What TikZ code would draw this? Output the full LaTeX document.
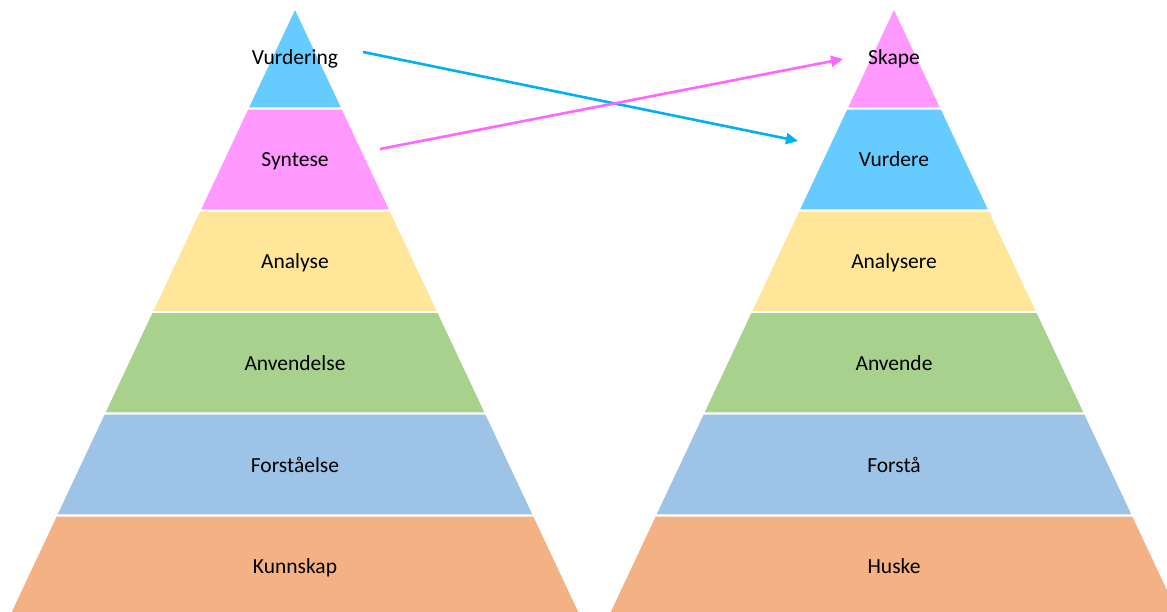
\documentclass[tikz,border=0pt]{standalone}
\usepackage{fontspec}
\setmainfont{Carlito}
\usetikzlibrary{arrows.meta}

\definecolor{skyblue}{HTML}{66CCFF}
\definecolor{pinklayer}{HTML}{FF99FF}
\definecolor{yellowlayer}{HTML}{FFE699}
\definecolor{greenlayer}{HTML}{A9D18E}
\definecolor{bluelayer}{HTML}{9DC3E6}
\definecolor{orangelayer}{HTML}{F4B183}
\definecolor{linkblue}{HTML}{00B0F0}
\definecolor{linkpink}{HTML}{FF66FF}

% one horizontal band of a pyramid: centre x, top y, bottom y, colour
\newcommand\tierband[4]{%
  \pgfmathsetmacro\wtop{0.4705*(#2-10)}%
  \pgfmathsetmacro\wbot{0.4705*(#3-10)}%
  \fill[#4] (#1-\wtop,#2) -- (#1+\wtop,#2) -- (#1+\wbot,#3) -- (#1-\wbot,#3) -- cycle;}

\begin{document}
\begin{tikzpicture}[x=1pt,y=-1pt,
  tiertext/.style={font=\fontsize{21.5}{25}\selectfont, text=black, inner sep=0pt, anchor=base},
  link/.style={line width=2.6pt, -{Triangle[length=12pt,width=11pt]}}]
\useasboundingbox (0,0) rectangle (1167,612);

\begin{scope}
\clip (0,0) rectangle (1167,612);
% left pyramid
\tierband{295}{10}{107.3}{skyblue}
\tierband{295}{109.7}{209.3}{pinklayer}
\tierband{295}{211.7}{310.8}{yellowlayer}
\tierband{295}{313.2}{412.3}{greenlayer}
\tierband{295}{414.7}{514.3}{bluelayer}
\tierband{295}{516.7}{630}{orangelayer}
% right pyramid
\tierband{894}{10}{107.3}{pinklayer}
\tierband{894}{109.7}{209.3}{skyblue}
\tierband{894}{211.7}{310.8}{yellowlayer}
\tierband{894}{313.2}{412.3}{greenlayer}
\tierband{894}{414.7}{514.3}{bluelayer}
\tierband{894}{516.7}{630}{orangelayer}
\end{scope}

% labels of the left pyramid (placed on their baselines)
\node[tiertext] (l1) at (295,65)  {Vurdering};
\node[tiertext] (l2) at (295,167) {Syntese};
\node[tiertext] (l3) at (295,269) {Analyse};
\node[tiertext] (l4) at (295,370) {Anvendelse};
\node[tiertext] (l5) at (295,472) {Forståelse};
\node[tiertext] (l6) at (295,573) {Kunnskap};

% labels of the right pyramid
\node[tiertext] (r1) at (894,65)  {Skape};
\node[tiertext] (r2) at (894,167) {Vurdere};
\node[tiertext] (r3) at (894,269) {Analysere};
\node[tiertext] (r4) at (894,370) {Anvende};
\node[tiertext] (r5) at (894,472) {Forstå};
\node[tiertext] (r6) at (894,573) {Huske};

% arrow ends
\coordinate (vstart) at (363,52);
\coordinate (vend)   at (798,141);
\coordinate (sstart) at (380,149);
\coordinate (send)   at (843,59);

\draw[link, linkblue] (vstart) -- (vend);
\draw[link, linkpink] (sstart) -- (send);
\end{tikzpicture}
\end{document}
